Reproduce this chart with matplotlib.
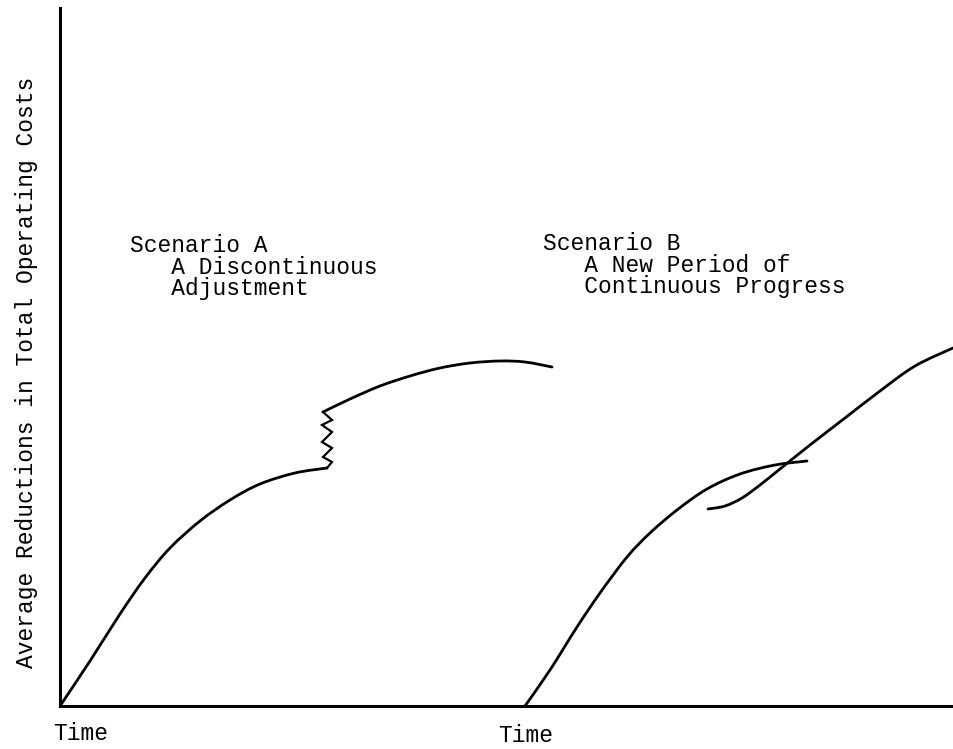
import matplotlib
matplotlib.use("Agg")
import matplotlib.pyplot as plt
from matplotlib.path import Path
from matplotlib.patches import PathPatch

# Scenario A: first growth curve, the discontinuous jump (zigzag), new curve
a_base_x = [0, 30, 60, 85, 110, 140, 170, 200, 235, 267]
a_base_y = [0, 45, 92, 128, 158, 185, 206, 222, 233, 238]
a_jump_x = [267, 272, 263, 272, 262, 272, 262, 272, 263]
a_jump_y = [238, 244, 249, 258, 264, 274, 281, 286, 294]
a_new_x = [263, 290, 320, 350, 380, 410, 440, 465, 492]
a_new_y = [294, 307, 320, 330, 338, 343, 345, 344, 339]

# Scenario B: old curve levelling off, new curve starting lower and overtaking
b_old_x = [465, 490, 517, 540, 567, 590, 617, 647, 680, 715, 747]
b_old_y = [0, 36, 79, 113, 149, 173, 196, 217, 232, 241, 245]
b_new_x = [648, 665, 682, 700, 720, 750, 785, 820, 855, 893]
b_new_y = [197, 200, 208, 221, 237, 261, 288, 315, 340, 358]

ylabel = "Average Reductions in Total Operating Costs"
text_a = ["Scenario A", "   A Discontinuous", "   Adjustment"]
text_b = ["Scenario B", "   A New Period of", "   Continuous Progress"]

plt.rcParams['font.family'] = ['Liberation Mono', 'DejaVu Sans Mono']


def smooth_path(xs, ys):
    # pass the points through a Catmull-Rom style bezier path
    pts = list(zip(xs, ys))
    verts = [pts[0]]
    codes = [Path.MOVETO]
    n = len(pts)
    for i in range(n - 1):
        p0 = pts[i - 1] if i > 0 else pts[i]
        p1 = pts[i]
        p2 = pts[i + 1]
        p3 = pts[i + 2] if i + 2 < n else pts[i + 1]
        c1 = (p1[0] + (p2[0] - p0[0]) / 6, p1[1] + (p2[1] - p0[1]) / 6)
        c2 = (p2[0] - (p3[0] - p1[0]) / 6, p2[1] - (p3[1] - p1[1]) / 6)
        verts += [c1, c2, p2]
        codes += [Path.CURVE4] * 3
    return Path(verts, codes)


fig = plt.figure(figsize=(9.54, 7.49), dpi=100)
ax = fig.add_axes([60 / 954, 43 / 749, 894 / 954, 698 / 749])
ax.set_xlim(0, 894)
ax.set_ylim(0, 698)

lw = 2.0
for xs, ys in [(a_base_x, a_base_y), (a_new_x, a_new_y),
               (b_old_x, b_old_y), (b_new_x, b_new_y)]:
    ax.add_patch(PathPatch(smooth_path(xs, ys), fill=False, edgecolor='black',
                           lw=lw, capstyle='round'))
ax.plot(a_jump_x, a_jump_y, color='black', lw=1.6, solid_joinstyle='miter')

for s in ['top', 'right']:
    ax.spines[s].set_visible(False)
for s in ['left', 'bottom']:
    ax.spines[s].set_linewidth(2.2)
ax.set_xticks([])
ax.set_yticks([])

fs = 16.5
for i, t in enumerate(text_a):
    ax.text(70, 461 - i * 22, t, fontsize=fs, ha='left', va='center')
for i, t in enumerate(text_b):
    ax.text(483, 463 - i * 22, t, fontsize=fs, ha='left', va='center')

ax.text(-7, -27, "Time", fontsize=fs, ha='left', va='center', clip_on=False)
ax.text(438, -30, "Time", fontsize=fs, ha='left', va='center', clip_on=False)

fig.text(27 / 954, 1 - 372 / 749, ylabel, fontsize=fs, rotation=90,
         ha='center', va='center')

fig.savefig("out.png", dpi=100)
